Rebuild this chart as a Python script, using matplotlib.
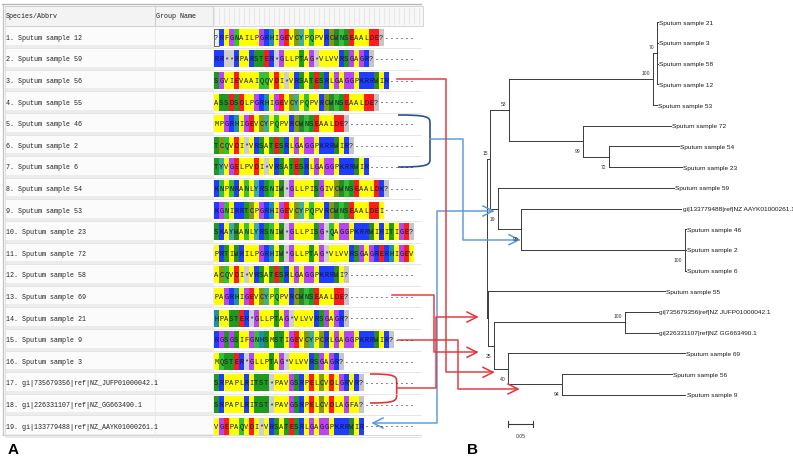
import matplotlib
matplotlib.use("Agg")
import matplotlib.pyplot as plt
from matplotlib.patches import Rectangle, PathPatch
from matplotlib.path import Path

# --- panel A: alignment ---
row_names = [
    "1. Sputum sample 12",
    "2. Sputum sample 59",
    "3. Sputum sample 56",
    "4. Sputum sample 55",
    "5. Sputum sample 46",
    "6. Sputum sample 2",
    "7. Sputum sample 6",
    "8. Sputum sample 54",
    "9. Sputum sample 53",
    "10. Sputum sample 23",
    "11. Sputum sample 72",
    "12. Sputum sample 58",
    "13. Sputum sample 69",
    "14. Sputum sample 21",
    "15. Sputum sample 9",
    "16. Sputum sample 3",
    "17. gi|735679356|ref|NZ_JUFP01000042.1",
    "18. gi|226331107|ref|NZ_GG663490.1",
    "19. gi|133779488|ref|NZ_AAYK01000261.1",
]

sequences = [
    "?RFGNAILPGRHIGEVCYPQPVRCWNSEAALDE?------",
    "RR**RPARSTER*GLLPTAG*VLVVRSGAGR?--------",
    "SGVIEVAAIQQVDI*VRSATESRLGAGGPKRRWIR-----",
    "ASSDSDLPGRHIGEVCYPQPVRCWNSEAALDE?-------",
    "MPGRHIGEVCYPQPVRCWNSEAALDE?-------------",
    "TCQVDI*VRSATESRLGAGGPKRRWIR?------------",
    "TYVGELPVDI*VRSATESRLGAGGPKRRWIR---------",
    "KNPNRANLYRSNIW*GLLPISGIVCWNSEAALDK?-----",
    "KGNIRRTCPGRHIGEVCYPQPVRCWNSEAALDEI------",
    "SKAYWANLYRSNIW*GLLPISG*QAGGPKRRWIRITIGE?",
    "PRTIWRILPGRHIW*GLLPTAG*VLVVRSGAGRERHIGEV",
    "ACQVDI*VRSATESRLGAGGPKRRWI?-------------",
    "PAGRHIGEVCYPQPVRCWNSEAALDE?-------------",
    "HPASTER*GLLPTAG*VLVVRSGAGR?-------------",
    "RGSGSIFGNHSMSTIGEVCYPCRLGAGGPKRRWIR?----",
    "MQSTER*GLLPTAG*VLVVRSGAGR?--------------",
    "SRPAPLRITST*PAVGSRPELCVDLGRVR?----------",
    "SRPAPLRITST*PAVGSRPELCVDLAGFA?----------",
    "VGEPAQVDI*VRSATESRLGAGGPKRRWIR----------",
]

aa_colors = {
    "A": "#ffff00", "V": "#ffff00", "L": "#ffff00", "I": "#ffff00",
    "M": "#ffff00", "F": "#ffff00", "P": "#ffff00",
    "G": "#b845f5",
    "S": "#1f9a1f", "T": "#1f9a1f", "W": "#2a8a2a",
    "N": "#35c035", "Q": "#35c035",
    "D": "#ff1c1c", "E": "#ff1c1c",
    "K": "#1f3dff", "R": "#1f3dff",
    "H": "#1f8fb0", "Y": "#3cb09a", "C": "#849a10",
    "*": "#cfcfcf", "?": "#c6c6c6",
}

# --- panel B: tree  (branch length, bootstrap, children) or (leaf, branch length) ---
tree = (0.0, None, [
    (0.0071, 15, [
        (0.0375, 53, [
            (0.2834, 100, [
                (0.0079, 70, [("Sputum sample 21", 0.002), ("Sputum sample 3", 0.002),
                              ("Sputum sample 58", 0.002), ("Sputum sample 12", 0.002)]),
                ("Sputum sample 53", 0.008),
            ]),
            (0.146, 99, [
                ("Sputum sample 72", 0.173),
                (0.051, 72, [("Sputum sample 54", 0.138), ("Sputum sample 23", 0.144)]),
            ]),
        ]),
        (0.0146, 19, [
            ("Sputum sample 59", 0.348),
            (0.047, 99, [
                ("gi|133779488|ref|NZ AAYK01000261.1", 0.316),
                (0.323, 100, [("Sputum sample 46", 0.002), ("Sputum sample 2", 0.002),
                              ("Sputum sample 6", 0.002)]),
            ]),
        ]),
    ]),
    (0.003, None, [
        ("Sputum sample 55", 0.349),
        (0.011, 25, [
            (0.259, 100, [("gi|735679356|ref|NZ JUFP01000042.1", 0.065),
                          ("gi|226331107|ref|NZ GG663490.1", 0.065)]),
            (0.028, 40, [
                ("Sputum sample 69", 0.349),
                (0.106, 94, [("Sputum sample 56", 0.218), ("Sputum sample 9", 0.244)]),
            ]),
        ]),
    ]),
])
scale_len = 0.05

fig = plt.figure(figsize=(7.93, 4.60), dpi=100)
ax = fig.add_axes([0, 0, 1, 1])
ax.set_xlim(0, 793)
ax.set_ylim(460, 0)
ax.axis("off")

mono = "Liberation Mono"
sans = "Liberation Sans"

# window frame + header
row_y0, row_h = 38.3, 21.6
seq_x0, cell_w = 214, 5.0
ax.plot([2, 421], [4.5, 4.5], color="#b8b8b8", lw=1.0)
ax.plot([2.5, 2.5], [4.5, 436], color="#c4c4c4", lw=1.0)
ax.plot([4.5, 4.5], [6, 436], color="#dedede", lw=0.6)
ax.add_patch(Rectangle((5, 7), 150, 19.5, fc="#f3f3f3", ec="#c8c8c8", lw=0.6))
ax.add_patch(Rectangle((155, 7), 58, 19.5, fc="#f3f3f3", ec="#c8c8c8", lw=0.6))
ax.add_patch(Rectangle((213, 7), 210, 19.5, fc="#f7f7f7", ec="#d0d0d0", lw=0.6))
for j in range(42):
    ax.plot([seq_x0 + j * cell_w] * 2, [9, 25], color="#dadada", lw=0.4)
ax.text(5.5, 16.5, "Species/Abbrv", fontsize=4.8, family=mono, va="center", color="#222222")
ax.text(156.5, 16.5, "Group Name", fontsize=4.8, family=mono, va="center", color="#222222")

for i, (name, seq) in enumerate(zip(row_names, sequences)):
    yc = row_y0 + i * row_h
    top = yc - row_h / 2
    ax.add_patch(Rectangle((5, top), 208, row_h, fc="#fbfbfb", ec="none"))
    ax.add_patch(Rectangle((5, top + row_h - 3), 208, 3, fc="#ececec", ec="none"))
    ax.plot([5, 421], [top + row_h, top + row_h], color="#dcdcdc", lw=0.5)
    ax.text(5.5, yc, name, fontsize=4.8, family=mono, va="center", color="#222222")
    for j, ch in enumerate(seq):
        x = seq_x0 + j * cell_w
        if ch == "-":
            ax.text(x + cell_w / 2, yc, "-", fontsize=4.8, family=mono,
                    ha="center", va="center", color="#222222")
            continue
        if i == 0 and j == 0:
            ax.add_patch(Rectangle((x, yc - 8.5), cell_w - 0.4, 17, fc="#eeeeee",
                                   ec="#333333", lw=0.5))
        else:
            ax.add_patch(Rectangle((x, yc - 8.5), cell_w - 0.4, 17,
                                   fc=aa_colors.get(ch, "#cccccc"), ec="none"))
        ax.text(x + cell_w / 2 - 0.2, yc, ch, fontsize=5.0, family=mono,
                ha="center", va="center", color="#121232")
ax.plot([155, 155], [27, 435], color="#e6e6e6", lw=0.5)
ax.plot([213, 213], [27, 435], color="#e6e6e6", lw=0.5)
ax.plot([2, 421], [436, 436], color="#d0d0d0", lw=0.6)

# --- tree ---
tree_x0, px_per_unit = 486.7, 506.0
leaf_y0, leaf_dy = 23.3, 20.69
tree_col = "#3a3a3a"
leaf_idx = [0]


def draw(node, x_parent, pos):
    if isinstance(node[0], str):
        name, bl = node
        x = x_parent + bl * px_per_unit
        y = leaf_y0 + leaf_dy * leaf_idx[0]
        leaf_idx[0] += 1
        ax.plot([x_parent, x], [y, y], color=tree_col, lw=0.7)
        ax.text(x + 1.5, y, name, fontsize=4.65, family=sans, va="center", color="#1a1a1a")
        return y
    bl, boot, kids = node
    x = x_parent + bl * px_per_unit
    ys = [draw(k, x, n) for n, k in enumerate(kids)]
    y = (ys[0] + ys[-1]) / 2
    ax.plot([x, x], [ys[0], ys[-1]], color=tree_col, lw=0.7)
    ax.plot([x_parent, x], [y, y], color=tree_col, lw=0.7)
    if boot is not None:
        ty = y - 6.5 if pos == 0 else y + 9.6
        ax.text(x - 2.5, ty, str(boot), fontsize=3.6, family=sans,
                ha="right", va="center", color="#333333")
    return y


draw(tree, tree_x0, 0)

# scale bar
sx0, sy = 508, 425
sx1 = sx0 + scale_len * px_per_unit
ax.plot([sx0, sx1], [sy, sy], color=tree_col, lw=0.8)
ax.plot([sx0, sx0], [sy - 3, sy + 3], color=tree_col, lw=0.8)
ax.plot([sx1, sx1], [sy - 3, sy + 3], color=tree_col, lw=0.8)
ax.text((sx0 + sx1) / 2, sy + 11.5, f"{scale_len:.2f}", fontsize=3.6, family=sans,
        ha="center", va="center", color="#333333")

# --- annotation lines ---
red = "#e3343a"
lblue = "#5b9ad6"
dblue = "#2d4e9c"


def chevron(x, y, color, direction=1):
    ax.plot([x - 10 * direction, x, x - 10 * direction], [y - 5, y, y + 5],
            color=color, lw=1.1, solid_joinstyle="miter")


def route(xs, ys, color):
    ax.plot(xs, ys, color=color, lw=1.1, alpha=0.95)


def bracket(x0, x1, y0, y1, color):
    r = 8
    verts = [(x0, y0), (x1 - 2, y0), (x1, y0 + 2), (x1, y0 + r),
             (x1, y1 - r), (x1, y1 - 2), (x1 - 2, y1), (x0, y1)]
    codes = [Path.MOVETO, Path.CURVE4, Path.CURVE4, Path.CURVE4,
             Path.LINETO, Path.CURVE4, Path.CURVE4, Path.CURVE4]
    ax.add_patch(PathPatch(Path(verts, codes), fc="none", ec=color, lw=1.2))


# blue: rows 5-7 -> node of 46/2/6
bracket(398, 430, 116, 168, dblue)
route([430, 462.7, 462.7, 519], [140, 140, 240.7, 240.7], lblue)
chevron(519, 240.7, lblue)
# blue: row 19 -> node 19
route([373, 436.5, 436.5, 493], [424, 424, 212, 212], lblue)
chevron(493, 212, lblue)
chevron(373, 424, lblue, direction=-1)

# red: row 3
route([397, 445.7, 445.7, 493], [80, 80, 373.3, 373.3], red)
chevron(493, 373.3, red)
# red: row 13
route([392, 433.5, 433.5, 477], [296, 296, 353.3, 353.3], red)
chevron(477, 353.3, red)
# red: rows 17-18
bracket(370, 396.7, 375, 404, red)
route([396.7, 435.5, 435.5, 477], [389.3, 389.3, 318, 318], red)
chevron(477, 318, red)
# red: row 15
route([398, 458.3, 458.3, 518], [340.7, 340.7, 390, 390], red)
chevron(518, 390, red)

# panel letters
ax.text(13, 450, "A", fontsize=11, fontweight="bold", family=sans, ha="center", va="center")
ax.text(472, 450, "B", fontsize=11, fontweight="bold", family=sans, ha="center", va="center")

fig.savefig("out.png", dpi=100)
